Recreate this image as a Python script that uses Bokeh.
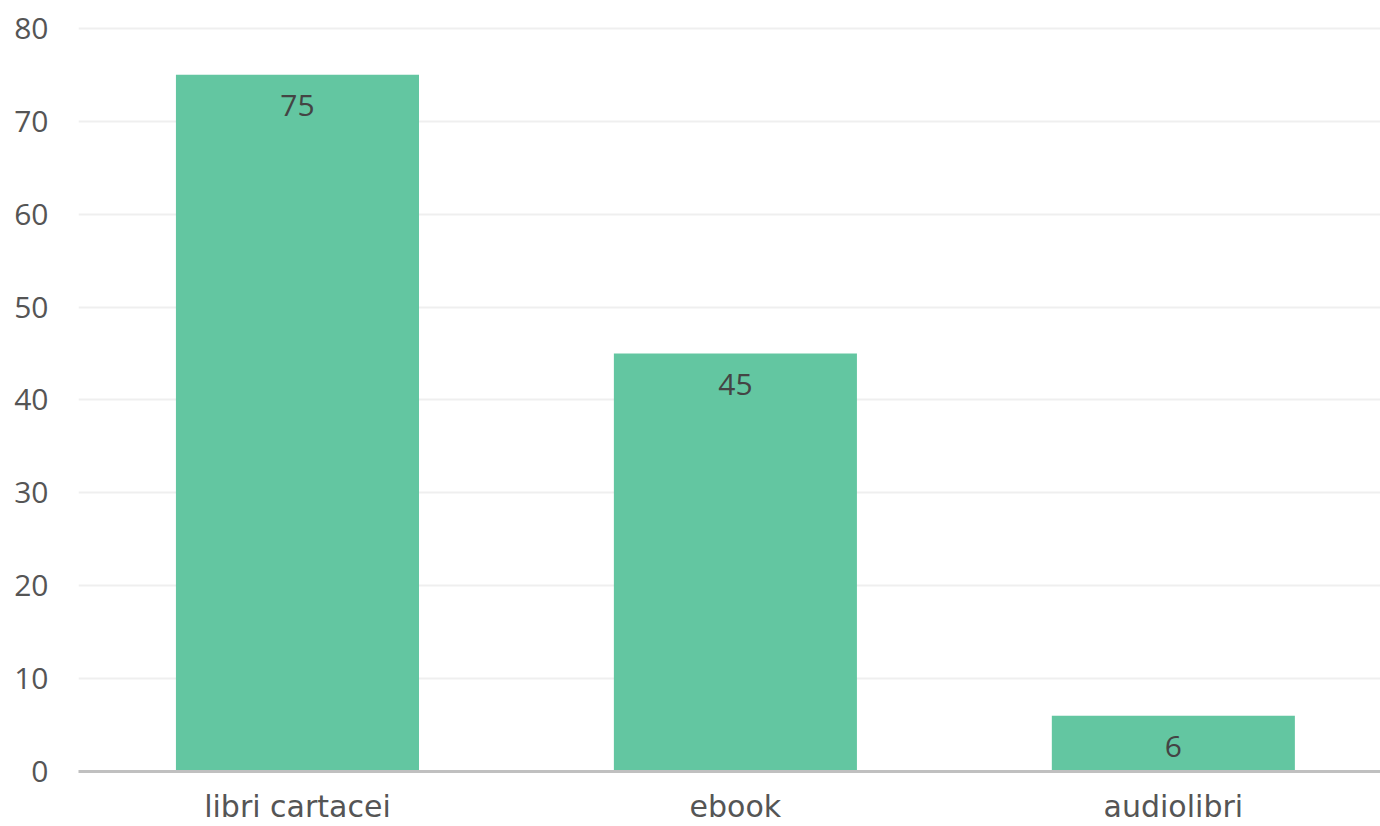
from bokeh.plotting import figure
from bokeh.models import Range1d, FixedTicker, ColumnDataSource
from bokeh.core.properties import value
from bokeh.embed import file_html
from bokeh.resources import INLINE

categories = ["libri cartacei", "ebook", "audiolibri"]
values = [75, 45, 6]
y_ticks = [0, 10, 20, 30, 40, 50, 60, 70, 80]

NUM_FONT = "Open Sans"
CAT_FONT = "DejaVu Sans"
xpos = [i + 0.5 for i in range(len(categories))]
src = ColumnDataSource(dict(x=xpos, top=values, label=[str(v) for v in values]))

p = figure(width=1380, height=826, output_backend="svg", toolbar_location=None,
           x_range=Range1d(0, 2.973), y_range=Range1d(0, 80.2),
           min_border_left=78, min_border_right=0, min_border_top=26, min_border_bottom=55)
p.outline_line_color = None
p.background_fill_color = "white"

p.vbar(x="x", top="top", width=0.555, bottom=0, source=src,
       fill_color="#5bc39c", fill_alpha=0.95, line_color=None)
p.text(x="x", y="top", text="label", source=src, text_align="center", text_baseline="middle",
       y_offset=31, text_font=value(NUM_FONT), text_font_size="30px", text_color="#444444")

p.xaxis.ticker = FixedTicker(ticks=xpos)
p.xaxis.major_label_overrides = {x: c for x, c in zip(xpos, categories)}
p.xaxis.major_tick_line_color = None
p.xaxis.minor_tick_line_color = None
p.xaxis.axis_line_color = "#c0c0c0"
p.xaxis.axis_line_width = 3
p.xaxis.major_label_standoff = 11
p.xaxis.major_label_text_font = CAT_FONT
p.xaxis.major_label_text_font_size = "30px"
p.xaxis.major_label_text_color = "#555555"

p.yaxis.ticker = FixedTicker(ticks=y_ticks)
p.yaxis.major_tick_line_color = None
p.yaxis.minor_tick_line_color = None
p.yaxis.axis_line_color = None
p.yaxis.major_label_standoff = 24
p.yaxis.major_label_text_font = NUM_FONT
p.yaxis.major_label_text_font_size = "30px"
p.yaxis.major_label_text_color = "#555555"

p.xgrid.grid_line_color = None
p.ygrid.grid_line_color = "#efefef"
p.ygrid.grid_line_width = 2

open("out.html", "w").write(file_html(p, INLINE))
